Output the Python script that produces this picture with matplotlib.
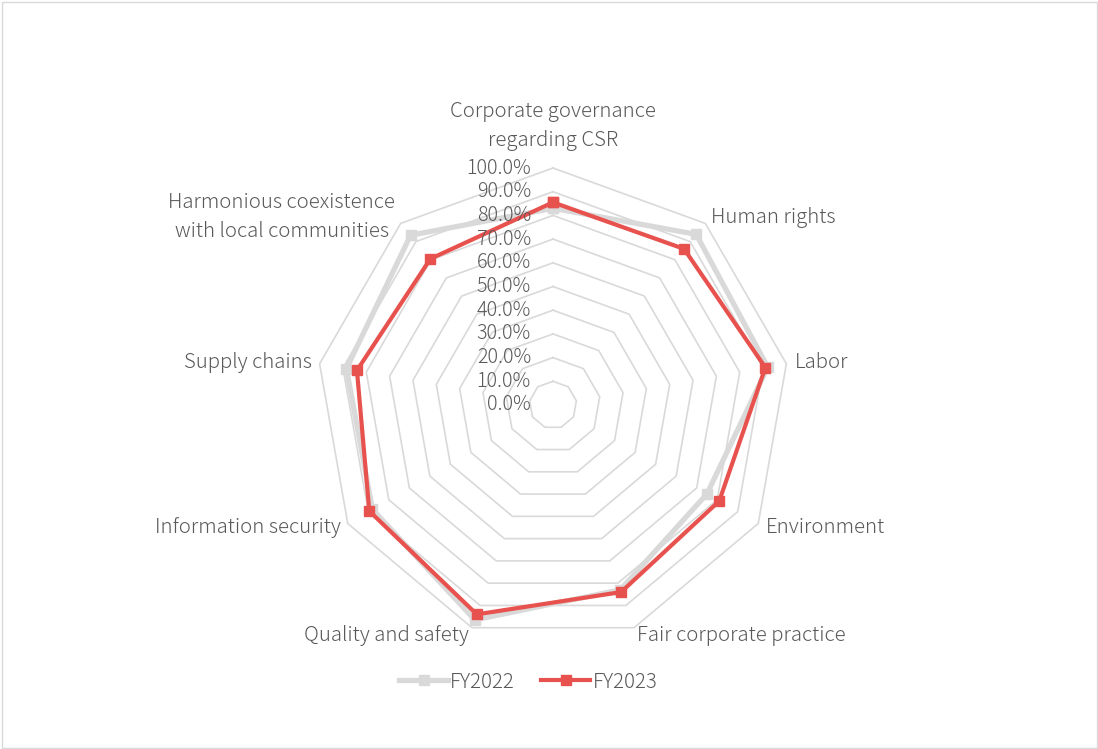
import numpy as np
import matplotlib
matplotlib.use("Agg")
import matplotlib.pyplot as plt
from matplotlib.patches import Rectangle

categories = ["Corporate governance\nregarding CSR", "Human rights", "Labor", "Environment",
              "Fair corporate practice", "Quality and safety", "Information security",
              "Supply chains", "Harmonious coexistence\nwith local communities"]
fy2022 = [0.83, 0.94, 0.92, 0.75, 0.83, 0.965, 0.88, 0.885, 0.935]
fy2023 = [0.855, 0.86, 0.91, 0.81, 0.84, 0.94, 0.895, 0.84, 0.805]
ring_values = [0.1 * i for i in range(0, 11)]
ring_labels = ["%.1f%%" % (v * 100) for v in ring_values]

plt.rcParams['font.family'] = ['Noto Sans CJK JP', 'DejaVu Sans']
FS = 14.7
FW = 'light'
text_color = "#595959"
grid_color = "#D9D9D9"
red = "#E8524E"
gray = "#D9D9D9"

W, H = 1098, 749
fig = plt.figure(figsize=(W / 100, H / 100), dpi=100)
fig.add_artist(Rectangle((1.5 / W, 1.5 / H), 1 - 3 / W, 1 - 3 / H, transform=fig.transFigure,
                         fill=False, edgecolor=grid_color, linewidth=1.0))

cx, cy, R = 553, 405, 237
ax = fig.add_axes([(cx - R) / W, (H - cy - R) / H, 2 * R / W, 2 * R / H], projection='polar')
ax.set_theta_zero_location('N')
ax.set_theta_direction(-1)
ax.set_ylim(0, 1.0)
ax.grid(False)
ax.spines['polar'].set_visible(False)
ax.set_xticks([])
ax.set_yticks([])
ax.patch.set_alpha(0)

n = len(categories)
theta = np.arange(n) * 2 * np.pi / n
theta_c = np.append(theta, theta[0])

for v in ring_values[1:]:
    ax.plot(theta_c, [v] * (n + 1), color=grid_color, linewidth=1.2, zorder=1, clip_on=False)

for v, lab in zip(ring_values, ring_labels):
    ax.annotate(lab, xy=(0, v), xytext=(-22, 0), textcoords='offset pixels',
                ha='right', va='center', fontsize=FS - 0.5, fontweight=FW, color=text_color, zorder=5)

g = np.append(fy2022, fy2022[0])
r = np.append(fy2023, fy2023[0])
ax.plot(theta_c, g, color=gray, linewidth=3.8, marker='s', markersize=7.5, zorder=3,
        label="FY2022", clip_on=False)
ax.plot(theta_c, r, color=red, linewidth=3.0, marker='s', markersize=7.5, zorder=4,
        label="FY2023", clip_on=False)

for t, lab in zip(theta, categories):
    deg = np.degrees(t) % 360
    if deg < 1 or deg > 359:
        ha, va, rr = 'center', 'bottom', 1.07
    elif deg < 180:
        ha, va, rr = 'left', 'center', 1.035
    else:
        ha, va, rr = 'right', 'center', 1.035
    ax.text(t, rr, lab, ha=ha, va=va, fontsize=FS, fontweight=FW, color=text_color,
            multialignment='center', linespacing=1.5)

leg = fig.legend(loc='center', bbox_to_anchor=(0.481, 1 - 682 / H), ncol=2, frameon=False,
                 prop={'size': FS, 'weight': FW}, handlelength=2.4, columnspacing=1.3,
                 handletextpad=0.1)
for txt in leg.get_texts():
    txt.set_color(text_color)

fig.savefig("out.png", dpi=100)
